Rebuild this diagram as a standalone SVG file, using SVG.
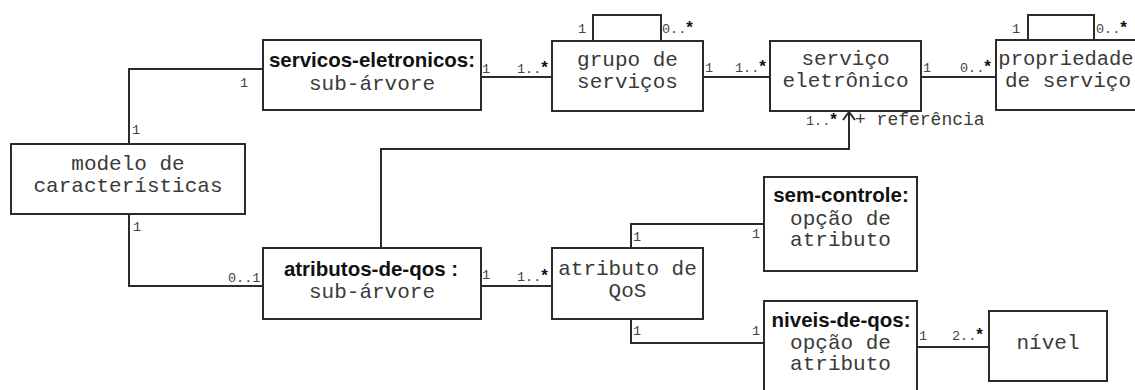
<svg xmlns="http://www.w3.org/2000/svg" width="1135" height="390" viewBox="0 0 1135 390">
  <style>
    .box { fill: #ffffff; stroke: #2b2b2b; stroke-width: 2; }
    .wire { fill: none; stroke: #2b2b2b; stroke-width: 2; }
    .t { font-family: "Liberation Mono", "Courier New", monospace; font-size: 21px; fill: #3a3a3a; text-anchor: middle; }
    .b { font-family: "Liberation Sans", Arial, sans-serif; font-weight: bold; font-size: 20.5px; fill: #111111; text-anchor: middle; }
    .m { font-family: "Liberation Mono", "Courier New", monospace; font-size: 13.5px; fill: #444444; }
    .s { font-family: "Liberation Sans", Arial, sans-serif; font-weight: bold; font-size: 17px; fill: #111111; }
    .r { font-family: "Liberation Mono", "Courier New", monospace; font-size: 18px; fill: #3a3a3a; }
  </style>
  <defs>
    <marker id="open-arrow" viewBox="0 0 10 14" refX="9" refY="7" markerWidth="10" markerHeight="14" markerUnits="userSpaceOnUse" orient="auto">
      <path d="M1,1 L9,7 L1,13" fill="none" stroke="#2b2b2b" stroke-width="2"/>
    </marker>
  </defs>

  <rect x="0" y="0" width="1135" height="390" fill="#ffffff"/>

  <!-- associations -->
  <g id="connectors">
    <path class="wire" d="M129,144 V69 H263"/>
    <path class="wire" d="M481,77 H552"/>
    <path class="wire" d="M593,41 V15 H661 V41"/>
    <path class="wire" d="M703,77 H770"/>
    <path class="wire" d="M921,77 H996"/>
    <path class="wire" d="M1028,40 V15 H1094 V40"/>
    <path class="wire" d="M129,214 V286 H263"/>
    <path class="wire" d="M481,286 H552"/>
    <path class="wire" d="M381,248 V149 H849 V112" marker-end="url(#open-arrow)"/>
    <path class="wire" d="M631,248 V224 H764"/>
    <path class="wire" d="M631,319 V343 H764"/>
    <path class="wire" d="M917,347 H989"/>

    <!-- multiplicities and roles -->
    <text class="m" x="240" y="87">1</text>
    <text class="m" x="132" y="134">1</text>
    <text class="m" x="482" y="73">1</text>
    <text class="m" x="517" y="73">1..<tspan class="s">*</tspan></text>
    <text class="m" x="578" y="33">1</text>
    <text class="m" x="662" y="33">0..<tspan class="s">*</tspan></text>
    <text class="m" x="705" y="72">1</text>
    <text class="m" x="735" y="72">1..<tspan class="s">*</tspan></text>
    <text class="m" x="923" y="72">1</text>
    <text class="m" x="960" y="72">0..<tspan class="s">*</tspan></text>
    <text class="m" x="1012" y="33">1</text>
    <text class="m" x="1096" y="33">0..<tspan class="s">*</tspan></text>
    <text class="m" x="806" y="125">1..<tspan class="s">*</tspan></text>
    <text class="r" x="855" y="125">+ referência</text>
    <text class="m" x="133" y="231">1</text>
    <text class="m" x="228" y="282">0..1</text>
    <text class="m" x="482" y="279">1</text>
    <text class="m" x="517" y="281">1..<tspan class="s">*</tspan></text>
    <text class="m" x="633" y="241">1</text>
    <text class="m" x="752" y="238">1</text>
    <text class="m" x="633" y="335">1</text>
    <text class="m" x="752" y="335">1</text>
    <text class="m" x="919" y="340">1</text>
    <text class="m" x="952" y="340">2..<tspan class="s">*</tspan></text>
  </g>

  <g id="modelo-de-caracteristicas">
    <rect class="box" x="11" y="144" width="234" height="70"/>
    <text class="t" x="128" y="170">modelo de</text>
    <text class="t" x="128" y="192">características</text>
  </g>

  <g id="servicos-eletronicos">
    <rect class="box" x="263" y="40" width="218" height="70"/>
    <text class="b" x="372" y="67">servicos-eletronicos:</text>
    <text class="t" x="372" y="90">sub-árvore</text>
  </g>

  <g id="grupo-de-servicos">
    <rect class="box" x="552" y="41" width="151" height="70"/>
    <text class="t" x="627.5" y="66">grupo de</text>
    <text class="t" x="627.5" y="88">serviços</text>
  </g>

  <g id="servico-eletronico">
    <rect class="box" x="770" y="41" width="151" height="70"/>
    <text class="t" x="845.5" y="65">serviço</text>
    <text class="t" x="845.5" y="87">eletrônico</text>
  </g>

  <g id="propriedade-de-servico">
    <rect class="box" x="996" y="40" width="150" height="70"/>
    <text class="t" x="1066" y="65" style="font-size:20.5px">propriedade</text>
    <text class="t" x="1068" y="87">de serviço</text>
  </g>

  <g id="atributos-de-qos">
    <rect class="box" x="263" y="248" width="218" height="71"/>
    <text class="b" x="371" y="276">atributos-de-qos :</text>
    <text class="t" x="372" y="298">sub-árvore</text>
  </g>

  <g id="atributo-de-qos">
    <rect class="box" x="552" y="248" width="151" height="71"/>
    <text class="t" x="627.5" y="275">atributo de</text>
    <text class="t" x="627.5" y="297">QoS</text>
  </g>

  <g id="sem-controle">
    <rect class="box" x="764" y="177" width="153" height="94"/>
    <text class="b" x="841" y="202">sem-controle:</text>
    <text class="t" x="840.5" y="225">opção de</text>
    <text class="t" x="840.5" y="246">atributo</text>
  </g>

  <g id="niveis-de-qos">
    <rect class="box" x="764" y="301" width="153" height="100"/>
    <text class="b" x="841" y="327">niveis-de-qos:</text>
    <text class="t" x="840.5" y="349">opção de</text>
    <text class="t" x="840.5" y="370">atributo</text>
  </g>

  <g id="nivel">
    <rect class="box" x="989" y="311" width="118" height="70"/>
    <text class="t" x="1048" y="349">nível</text>
  </g>
</svg>
